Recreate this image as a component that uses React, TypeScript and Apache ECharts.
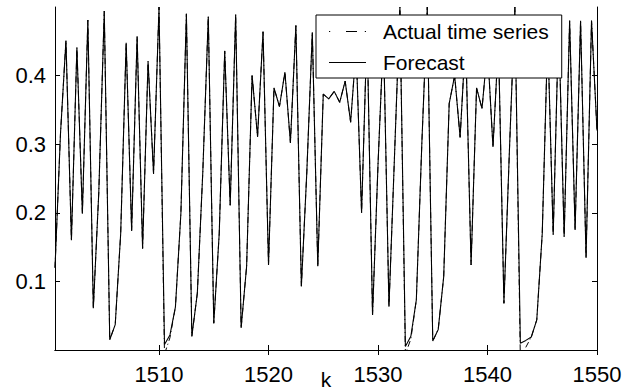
import React, { useEffect, useRef } from "react";
import * as echarts from "echarts";

const kValues = [
  1500.5, 1501, 1501.5, 1502, 1502.5, 1503, 1503.5, 1504, 1504.5, 1505,
  1505.5, 1506, 1506.5, 1507, 1507.5, 1508, 1508.5, 1509, 1509.5, 1510,
  1510.5, 1511, 1511.5, 1512, 1512.5, 1513, 1513.5, 1514, 1514.5, 1515,
  1515.5, 1516, 1516.5, 1517, 1517.5, 1518, 1518.5, 1519, 1519.5, 1520,
  1520.5, 1521, 1521.5, 1522, 1522.5, 1523, 1523.5, 1524, 1524.5, 1525,
  1525.5, 1526, 1526.5, 1527, 1527.5, 1528, 1528.5, 1529, 1529.5, 1530,
  1530.5, 1531, 1531.5, 1532, 1532.5, 1533, 1533.5, 1534, 1534.5, 1535,
  1535.5, 1536, 1536.5, 1537, 1537.5, 1538, 1538.5, 1539, 1539.5, 1540,
  1540.5, 1541, 1541.5, 1542, 1542.5, 1543, 1543.5, 1544, 1544.5, 1545,
  1545.5, 1546, 1546.5, 1547, 1547.5, 1548, 1548.5, 1549, 1549.5, 1550,
];

const forecast = [
  0.12, 0.315, 0.451, 0.16, 0.441, 0.199, 0.481, 0.061, 0.23, 0.494,
  0.015, 0.037, 0.17, 0.448, 0.174, 0.457, 0.148, 0.421, 0.257, 0.5,
  0.008, 0.022, 0.063, 0.2, 0.49, 0.02, 0.083, 0.26, 0.486, 0.039,
  0.17, 0.436, 0.211, 0.489, 0.032, 0.122, 0.4, 0.311, 0.464, 0.124,
  0.382, 0.355, 0.405, 0.302, 0.473, 0.093, 0.26, 0.463, 0.122, 0.373,
  0.366, 0.377, 0.361, 0.392, 0.332, 0.44, 0.2, 0.47, 0.051, 0.27,
  0.46, 0.063, 0.28, 0.5, 0.005, 0.02, 0.073, 0.3, 0.5, 0.013,
  0.03, 0.107, 0.359, 0.4, 0.31, 0.455, 0.124, 0.382, 0.352, 0.44,
  0.296, 0.45, 0.068, 0.29, 0.5, 0.01, 0.014, 0.019, 0.044, 0.17,
  0.46, 0.168, 0.48, 0.165, 0.48, 0.175, 0.48, 0.134, 0.48, 0.32,
];

const actual = [
  0.12, 0.315, 0.451, 0.16, 0.441, 0.199, 0.481, 0.061, 0.23, 0.494,
  0.015, 0.037, 0.17, 0.448, 0.174, 0.457, 0.148, 0.421, 0.257, 0.5,
  -0.006, 0.018, 0.063, 0.2, 0.49, 0.02, 0.083, 0.26, 0.486, 0.039,
  0.17, 0.436, 0.211, 0.489, 0.032, 0.122, 0.4, 0.311, 0.464, 0.124,
  0.382, 0.355, 0.405, 0.302, 0.473, 0.093, 0.26, 0.463, 0.122, 0.373,
  0.366, 0.377, 0.361, 0.392, 0.332, 0.44, 0.2, 0.47, 0.051, 0.27,
  0.46, 0.063, 0.28, 0.5, -0.006, 0.016, 0.073, 0.3, 0.5, 0.013,
  0.03, 0.107, 0.359, 0.4, 0.31, 0.455, 0.124, 0.382, 0.352, 0.44,
  0.296, 0.45, 0.068, 0.29, 0.5, -0.012, 0.004, 0.019, 0.044, 0.17,
  0.46, 0.168, 0.48, 0.165, 0.48, 0.175, 0.48, 0.134, 0.48, 0.32,
];

const xTicks = [1510, 1520, 1530, 1540, 1550];
const yTicks = [0.1, 0.2, 0.3, 0.4];
const seriesNames = ["Actual time series", "Forecast"];

const FONT = "Liberation Sans, Arial, Helvetica, sans-serif";
const DASHDOT_ICON = "path://M0,0h1.2v1.2h-1.2z M17,0h11v1.2h-11z M35.8,0h1.2v1.2h-1.2z";
const SOLID_ICON = "path://M0,0h37v1.2h-37z";

export default function App() {
  const ref = useRef<HTMLDivElement>(null);
  useEffect(() => {
    if (!ref.current) return;
    const chart = echarts.init(ref.current, null, { renderer: "svg" });
    const axisLine = { show: true, lineStyle: { color: "#000", width: 1 } };
    const tick = (vals: number[]) => ({
      show: true,
      inside: true,
      length: 5,
      customValues: vals,
      lineStyle: { color: "#000", width: 1 },
    });
    const xBase = { type: "value", min: 1500.5, max: 1550, splitLine: { show: false } };
    const yBase = { type: "value", min: 0, max: 0.5, splitLine: { show: false } };
    chart.setOption({
      animation: false,
      backgroundColor: "#fff",
      textStyle: { fontFamily: FONT },
      grid: {
        left: 55,
        right: 40,
        top: 7,
        bottom: 40,
        containLabel: false,
        outerBoundsMode: "none",
      },
      legend: {
        data: [
          { name: seriesNames[0], icon: DASHDOT_ICON },
          { name: seriesNames[1], icon: SOLID_ICON },
        ],
        orient: "vertical",
        left: 316,
        top: 15,
        backgroundColor: "#fff",
        borderColor: "#000",
        borderWidth: 1,
        borderRadius: 0,
        padding: [6, 13, 5, 13],
        itemWidth: 37,
        itemHeight: 1.2,
        itemGap: 10,
        textStyle: { fontFamily: FONT, fontSize: 21, color: "#000", padding: [0, 0, 0, 12] },
      },
      xAxis: [
        {
          ...xBase,
          position: "bottom",
          name: "k",
          nameLocation: "middle",
          nameGap: 19,
          nameMoveOverlap: false,
          nameTextStyle: {
            fontFamily: FONT,
            fontSize: 21,
            color: "#000",
            verticalAlign: "top",
            lineHeight: 21,
          },
          axisLine,
          axisTick: tick(xTicks),
          axisLabel: {
            show: true,
            customValues: xTicks,
            margin: 13,
            fontFamily: FONT,
            fontSize: 22,
            color: "#000",
            formatter: (v: number) => String(v),
          },
        },
        {
          ...xBase,
          position: "top",
          axisLine,
          axisTick: tick(xTicks),
          axisLabel: { show: false },
        },
      ],
      yAxis: [
        {
          ...yBase,
          position: "left",
          axisLine,
          axisTick: tick(yTicks),
          axisLabel: {
            show: true,
            customValues: yTicks,
            margin: 9,
            fontFamily: FONT,
            fontSize: 22,
            color: "#000",
            formatter: (v: number) => v.toFixed(1),
          },
        },
        {
          ...yBase,
          position: "right",
          axisLine,
          axisTick: tick(yTicks),
          axisLabel: { show: false },
        },
      ],
      series: [
        {
          name: seriesNames[0],
          type: "line",
          xAxisIndex: 0,
          yAxisIndex: 0,
          data: kValues.map((k, i) => [k, actual[i]]),
          symbol: "none",
          clip: true,
          lineStyle: { color: "#000", width: 1, type: [6, 3, 1, 3] },
          itemStyle: { color: "#000" },
        },
        {
          name: seriesNames[1],
          type: "line",
          xAxisIndex: 0,
          yAxisIndex: 0,
          data: kValues.map((k, i) => [k, forecast[i]]),
          symbol: "none",
          clip: true,
          lineStyle: { color: "#000", width: 1.1, type: "solid" },
          itemStyle: { color: "#000" },
        },
      ],
    });
    return () => chart.dispose();
  }, []);
  return (
    <div
      ref={ref}
      style={{ position: "fixed", left: 0, top: 0, width: 637, height: 390, background: "#fff" }}
    />
  );
}
